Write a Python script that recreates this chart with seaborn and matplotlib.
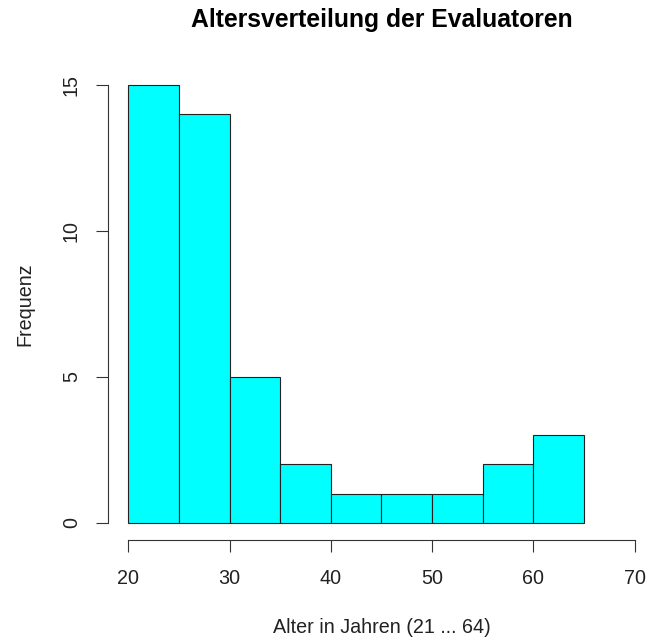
import seaborn as sns
import matplotlib.pyplot as plt
import numpy as np

# Histogram data
bin_edges = [20, 25, 30, 35, 40, 45, 50, 55, 60, 65]
bin_counts = [15, 14, 5, 2, 1, 1, 1, 2, 3]
x_ticks = [20, 30, 40, 50, 60, 70]
y_ticks = [0, 5, 10, 15]

sns.set_style("white")
plt.rcParams['font.family'] = ['Liberation Sans', 'DejaVu Sans']

fig = plt.figure(figsize=(6.46, 6.41), dpi=100)
# R-style plot region (extends slightly past the right edge, like the cropped original)
ax = fig.add_axes([108 / 646, (641 - 540.2) / 641, (654.8 - 108) / 646, (540.2 - 67.5) / 641])

centers = np.array(bin_edges[:-1]) + 2.5
sns.histplot(x=centers, weights=bin_counts, bins=bin_edges, ax=ax,
             color="#00FFFF", edgecolor="#222222", linewidth=0.8, alpha=1.0)

ax.set_xlim(18, 72)
ax.set_ylim(-0.6, 15.6)
ax.set_xticks(x_ticks)
ax.set_yticks(y_ticks)

for side in ["top", "right"]:
    ax.spines[side].set_visible(False)
ax.spines["bottom"].set_bounds(20, 70)
ax.spines["left"].set_bounds(0, 15)
for side in ["bottom", "left"]:
    ax.spines[side].set_color("#333333")
    ax.spines[side].set_linewidth(0.8)

ax.tick_params(axis="both", bottom=True, left=True, length=8.6, width=0.8, color="#333333",
               labelsize=14.2, labelcolor="#222222", direction="out")
ax.tick_params(axis="x", pad=12)
ax.tick_params(axis="y", pad=11)
for lab in ax.get_yticklabels():
    lab.set_rotation(90)
    lab.set_va("center")

ax.set_title("Altersverteilung der Evaluatoren", fontsize=17.8, fontweight="bold",
             color="black", pad=29)
ax.set_xlabel("Alter in Jahren (21 ... 64)", fontsize=14.2, color="#222222", labelpad=22)
ax.set_ylabel("Frequenz", fontsize=14.2, color="#222222", labelpad=20)

fig.savefig("out.png", dpi=100)
